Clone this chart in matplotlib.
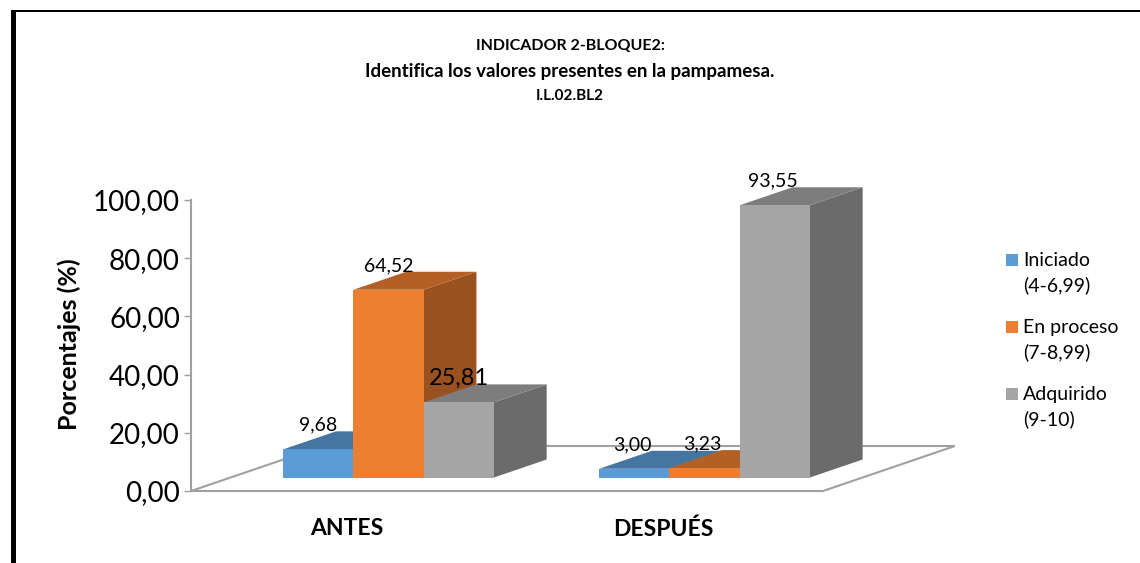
import numpy as np
import matplotlib.pyplot as plt
from matplotlib.patches import Polygon, Rectangle
from matplotlib.colors import to_rgb

plt.rcParams['font.family'] = ['Lato', 'DejaVu Sans']

W, H = 1140, 563

title_lines = ['INDICADOR 2-BLOQUE2:',
               'Identifica los valores presentes en la pampamesa.',
               'I.L.02.BL2']
title_sizes = [11.5, 13.5, 11]
categories = ['ANTES', 'DESPUÉS']
series_names = ['Iniciado\n(4-6,99)', 'En proceso\n(7-8,99)', 'Adquirido\n(9-10)']
iniciado = [9.68, 3.00]
en_proceso = [64.52, 3.23]
adquirido = [25.81, 93.55]
label_sizes = [[14, 14], [14, 14], [17, 14]]
colors = ['#5B9BD5', '#ED7D31', '#A5A5A5']
yticks = [0, 20, 40, 60, 80, 100]

series = [iniciado, en_proceso, adquirido]

# oblique projection of the 3D floor: depth d goes from 0 (front) to 1 (back)
DX, DY = 1.878, 15.46
D0, D1 = 0.3, 0.7
XMAX = 9.0


def proj(x, v, d):
    return (x + d * DX, v + d * DY)


def shade(c, f):
    return tuple(np.array(to_rgb(c)) * f)


fig = plt.figure(figsize=(W / 100, H / 100), dpi=100)
ax = fig.add_axes([191 / W, (H - 491) / H, (823 - 191) / W, 291 / H])
ax.set_xlim(0, XMAX)
ax.set_ylim(0, 100)

# floor
floor = [proj(0, 0, 0), proj(XMAX, 0, 0), proj(XMAX, 0, 1), proj(0, 0, 1)]
ax.add_patch(Polygon(floor, closed=True, fc='white', ec='#A0A0A0', lw=1.5,
                     clip_on=False, zorder=1))

# bars
x_centers = np.array([2.25, 6.75])
for j, cx in enumerate(x_centers):
    for i, vals in enumerate(series):
        x0 = cx - 1.5 + i
        x1 = x0 + 1
        v = vals[j]
        c = colors[i]
        front = [proj(x0, 0, D0), proj(x1, 0, D0), proj(x1, v, D0), proj(x0, v, D0)]
        top = [proj(x0, v, D0), proj(x1, v, D0), proj(x1, v, D1), proj(x0, v, D1)]
        side = [proj(x1, 0, D0), proj(x1, 0, D1), proj(x1, v, D1), proj(x1, v, D0)]
        z = 2 + j * 3 + i * 0.1
        ax.add_patch(Polygon(side, fc=shade(c, 0.65), ec='none', clip_on=False, zorder=z))
        ax.add_patch(Polygon(top, fc=shade(c, 0.76), ec='none', clip_on=False, zorder=z))
        ax.add_patch(Polygon(front, fc=c, ec='none', clip_on=False, zorder=z))
        lx, ly = proj(x0 + 0.5, v, D0)
        ax.annotate(f'{v:.2f}'.replace('.', ','), (lx, ly), xytext=(-1.5 * j, 17.5),
                    textcoords='offset points', ha='center', va='center',
                    fontsize=label_sizes[i][j], color='black', zorder=20,
                    annotation_clip=False)

# axis
for s in ['top', 'right', 'bottom']:
    ax.spines[s].set_visible(False)
ax.patch.set_alpha(0)
ax.spines['left'].set_color('#A0A0A0')
ax.spines['left'].set_linewidth(1.5)
ax.set_yticks(yticks)
ax.set_yticklabels([f'{t:.2f}'.replace('.', ',') for t in yticks], fontsize=20)
ax.tick_params(axis='y', length=5, width=1, color='#A0A0A0', pad=3)
ax.set_xticks(x_centers - 0.03)
ax.set_xticklabels(categories, fontsize=16.5, fontweight='bold')
ax.tick_params(axis='x', length=0, pad=19.5)
ax.set_ylabel('Porcentajes (%)', fontsize=18, fontweight='bold')
ax.yaxis.set_label_coords((81 - 191) / 632, 0.505)

# title
for line, y, size in zip(title_lines, [46, 72, 96], title_sizes):
    fig.text(570 / W, 1 - y / H, line, ha='center', va='center', fontsize=size, fontweight='bold')

# legend
for name, c, y in zip(series_names, colors, [260, 327, 394]):
    fig.add_artist(Rectangle((1006 / W, 1 - (y + 6) / H), 12 / W, 12 / H, fc=c, ec='none',
                             transform=fig.transFigure))
    fig.text(1023 / W, 1 - (y - 8) / H, name, ha='left', va='top', fontsize=14,
             linespacing=1.5)

# black frame round the picture
fig.add_artist(Rectangle((11 / W, 0), 5 / W, 1 - 10 / H, fc='black', ec='none', transform=fig.transFigure))
fig.add_artist(Rectangle((11 / W, 1 - 12 / H), 1 - 11 / W, 2 / H, fc='black', ec='none', transform=fig.transFigure))

fig.savefig('out.png', dpi=100)
